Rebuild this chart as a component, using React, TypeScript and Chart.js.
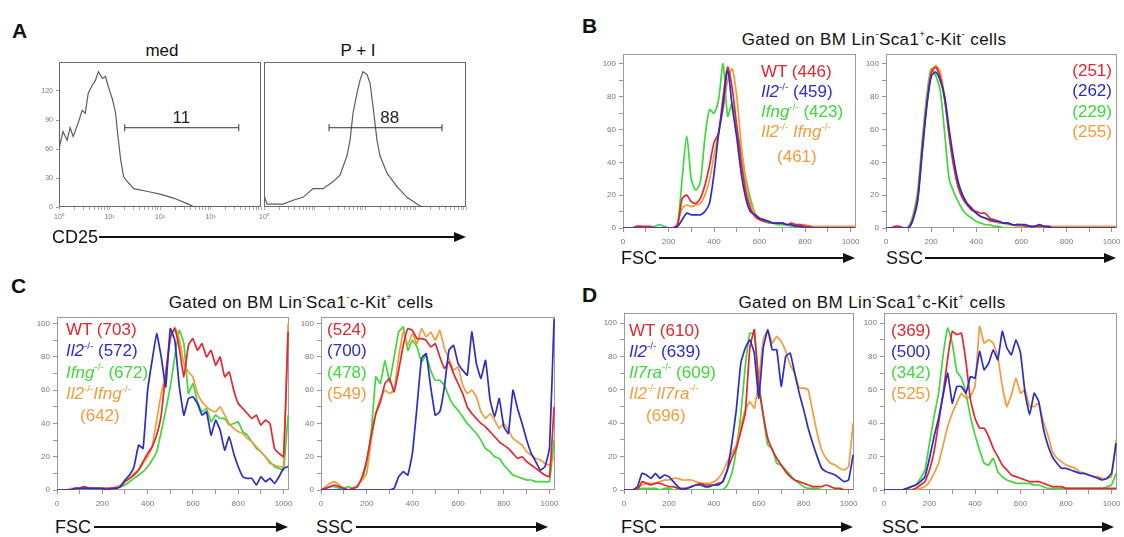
import React, { useEffect, useRef } from 'react';
import { Chart, registerables } from 'chart.js';

Chart.register(...registerables);

const FONT = '"Liberation Sans", Arial, Helvetica, sans-serif';
const RED = '#e5262f';
const BLUE = '#2c2cc9';
const GREEN = '#3fd83a';
const ORANGE = '#f59b3a';

// ---------------- Panel A (CD25, log axis) ----------------
const aMedX = [1, 1.02, 1.2, 1.45, 1.66, 1.91, 2.4, 2.88, 3.31, 3.8, 4.57, 5.25, 6.03, 7.24, 8.32, 9.55, 11.5, 13.2, 14.5, 16.6, 19.1, 22.9, 30.2, 57.5, 105, 191, 363, 479, 10000];
const aMedY = [121, 62, 78, 69, 82, 73, 87, 100, 97, 118, 126, 131, 140, 133, 135, 124, 111, 97, 76, 49, 31, 26, 19, 16, 13, 9, 3, 0, 0];
const aPiX = [1, 1.15, 2.38, 3.75, 5.92, 9.34, 14.7, 23.2, 32, 44, 50.5, 57.9, 69.5, 79.6, 91.2, 110, 126, 144, 173, 198, 273, 430, 679, 1071, 1349, 10000];
const aPiY = [12, 3, 3, 7, 10, 19, 19, 26, 33, 53, 69, 97, 118, 131, 140, 137, 128, 104, 69, 53, 35, 21, 10, 3, 0, 0];
const aGateMed = [20, 3630];
const aGatePi = [19.4, 3350];
const aGateY = 82;
const aGateMedLabel = { x: 265, text: '11' };
const aGatePiLabel = { x: 310, text: '88' };
const aYTicks = [0, 30, 60, 90, 120];
const aXTicks = [1, 2, 3, 4, 5, 6, 7, 8, 9, 10, 20, 30, 40, 50, 60, 70, 80, 90, 100, 200, 300, 400, 500, 600, 700, 800, 900, 1000, 2000, 3000, 4000, 5000, 6000, 7000, 8000, 9000, 10000];
const aXMajor = [1, 10, 100, 1000, 10000];
const aXLabels = ['10\u2070', '10\u00b9', '10\u00b2', '10\u00b3', '10\u2074'];

// ---------------- Panels B-D (linear FSC / SSC) ----------------
const binX = [0, 20, 40, 60, 80, 100, 120, 140, 160, 180, 200, 220, 240, 260, 280, 300, 320, 340, 360, 380, 400, 420, 440, 460, 480, 500, 520, 540, 560, 580, 600, 620, 640, 660, 680, 700, 720, 740, 760, 780, 800, 820, 840, 860, 880, 900, 920, 940, 960, 980, 1000, 1020];
const linXTicks = [0, 100, 200, 300, 400, 500, 600, 700, 800, 900, 1000];
const linYTicks = [0, 10, 20, 30, 40, 50, 60, 70, 80, 90, 100];

const bFscWT = [0, 0, 0, 1, 1, 1, 1, 0, 0, 0, 0, 0, 2, 18, 20, 16, 15, 18, 26, 38, 52, 58, 80, 98, 85, 62, 40, 22, 12, 7, 5, 4, 4, 3, 3, 3, 2, 3, 2, 2, 1, 1, 0, 0, 0, 0, 0, 0, 0, 0, 0, 0];
const bFscIl2 = [0, 0, 0, 0, 0, 0, 0, 0, 0, 0, 0, 0, 1, 5, 9, 8, 8, 8, 10, 15, 33, 57, 75, 96, 74, 55, 33, 18, 10, 8, 6, 5, 4, 3, 3, 3, 2, 2, 1, 1, 0, 0, 0, 0, 0, 0, 0, 0, 0, 0, 0, 0];
const bFscIfng = [0, 0, 0, 1, 1, 0, 0, 1, 2, 1, 0, 0, 3, 30, 56, 30, 23, 28, 55, 72, 70, 78, 100, 68, 76, 60, 47, 30, 18, 9, 6, 4, 3, 3, 2, 2, 2, 1, 1, 1, 1, 0, 0, 0, 0, 0, 0, 0, 0, 0, 0, 0];
const bFscDko = [0, 0, 0, 0, 0, 0, 0, 0, 0, 0, 0, 0, 3, 12, 14, 13, 14, 15, 20, 29, 44, 58, 72, 90, 97, 80, 50, 28, 15, 9, 6, 5, 4, 3, 3, 3, 2, 2, 2, 2, 2, 1, 1, 1, 1, 1, 1, 1, 1, 1, 1, 1];

const bSscWT = [0, 0, 1, 1, 0, 0, 6, 18, 48, 75, 94, 98, 92, 78, 56, 38, 25, 18, 14, 11, 10, 9, 9, 6, 5, 4, 3, 3, 2, 2, 2, 1, 1, 1, 1, 1, 0, 0, 0, 0, 0, 0, 0, 0, 0, 0, 0, 0, 0, 0, 0, 0];
const bSscIl2 = [0, 0, 0, 0, 0, 0, 5, 16, 45, 73, 92, 95, 90, 80, 60, 42, 28, 20, 15, 12, 9, 7, 6, 5, 4, 4, 3, 3, 2, 2, 2, 2, 1, 1, 2, 1, 1, 0, 0, 0, 0, 0, 0, 0, 0, 0, 0, 0, 0, 0, 0, 0];
const bSscIfng = [0, 0, 0, 0, 0, 1, 8, 22, 52, 80, 97, 93, 84, 58, 30, 22, 16, 11, 8, 6, 4, 3, 2, 2, 1, 1, 0, 0, 0, 0, 0, 0, 0, 0, 0, 0, 0, 0, 0, 0, 0, 0, 0, 0, 0, 0, 0, 0, 0, 0, 0, 0];
const bSscDko = [0, 0, 0, 0, 0, 0, 6, 18, 47, 76, 95, 99, 95, 80, 57, 38, 25, 18, 14, 11, 9, 7, 6, 4, 4, 3, 3, 2, 2, 1, 1, 1, 1, 1, 1, 1, 1, 1, 1, 1, 1, 1, 1, 1, 1, 1, 1, 1, 1, 1, 1, 1];

const cFscWT = [0, 0, 0, 0, 1, 1, 2, 1, 1, 1, 1, 1, 1, 1, 2, 5, 7, 9, 12, 17, 22, 26, 33, 45, 70, 92, 97, 85, 68, 87, 91, 84, 88, 80, 84, 75, 80, 68, 71, 60, 52, 49, 46, 43, 45, 39, 42, 40, 25, 22, 20, 95];
const cFscIl2 = [0, 0, 0, 0, 1, 1, 1, 1, 1, 1, 1, 0, 1, 1, 2, 6, 9, 14, 27, 25, 60, 78, 94, 80, 62, 97, 90, 62, 45, 55, 56, 52, 45, 47, 33, 42, 36, 24, 32, 22, 14, 8, 7, 7, 3, 8, 5, 7, 4, 8, 13, 14];
const cFscIfng = [0, 0, 0, 0, 0, 1, 1, 1, 1, 0, 0, 0, 1, 1, 2, 3, 5, 7, 9, 11, 14, 18, 23, 35, 48, 62, 80, 96, 88, 58, 64, 53, 47, 49, 41, 45, 43, 43, 39, 40, 41, 35, 33, 29, 25, 23, 20, 17, 14, 13, 12, 45];
const cFscDko = [0, 0, 0, 1, 1, 1, 2, 1, 1, 1, 1, 1, 1, 2, 3, 5, 7, 10, 12, 16, 20, 26, 42, 58, 70, 90, 98, 91, 76, 71, 68, 58, 53, 50, 48, 47, 50, 45, 40, 37, 35, 34, 31, 29, 26, 23, 20, 16, 15, 14, 14, 100];

const cSscWT = [0, 1, 2, 3, 2, 1, 0, 1, 2, 8, 18, 33, 46, 53, 64, 67, 59, 72, 87, 97, 96, 91, 91, 90, 86, 88, 80, 73, 77, 70, 64, 58, 50, 46, 43, 40, 38, 35, 32, 29, 27, 25, 22, 19, 20, 17, 15, 13, 11, 9, 8, 50];
const cSscIl2 = [0, 0, 0, 0, 0, 0, 0, 0, 0, 0, 0, 0, 0, 0, 0, 0, 1, 8, 11, 9, 22, 50, 79, 82, 62, 45, 47, 62, 84, 87, 76, 72, 69, 95, 76, 67, 78, 54, 44, 55, 38, 34, 60, 49, 40, 30, 22, 17, 12, 14, 25, 103];
const cSscIfng = [0, 1, 2, 2, 1, 1, 2, 1, 3, 6, 16, 35, 68, 64, 78, 65, 80, 95, 98, 84, 90, 86, 77, 81, 72, 66, 66, 63, 56, 51, 48, 44, 40, 37, 34, 30, 25, 23, 20, 19, 15, 12, 9, 8, 7, 6, 6, 5, 5, 5, 5, 30];
const cSscDko = [0, 2, 4, 5, 3, 1, 0, 1, 3, 6, 10, 30, 46, 55, 60, 58, 60, 80, 95, 87, 94, 88, 97, 92, 95, 90, 96, 85, 79, 72, 74, 63, 58, 60, 56, 47, 43, 46, 42, 37, 40, 36, 31, 29, 27, 23, 21, 19, 18, 16, 15, 20];

const dFscWT = [0, 0, 0, 0, 5, 4, 3, 4, 4, 3, 2, 2, 1, 1, 1, 2, 3, 4, 3, 3, 3, 4, 5, 12, 19, 25, 35, 46, 85, 96, 62, 45, 31, 24, 19, 15, 11, 8, 6, 5, 4, 3, 2, 2, 2, 3, 2, 1, 1, 0, 0, 0];
const dFscIl2 = [0, 0, 0, 2, 10, 9, 7, 10, 7, 9, 8, 5, 2, 0, 1, 2, 3, 3, 2, 2, 3, 3, 5, 12, 28, 48, 76, 85, 90, 82, 55, 85, 96, 84, 84, 62, 80, 82, 70, 58, 48, 37, 28, 20, 13, 11, 10, 9, 7, 5, 6, 21];
const dFscIl7ra = [0, 0, 0, 0, 1, 1, 1, 1, 0, 1, 1, 0, 0, 0, 0, 0, 0, 0, 0, 0, 0, 0, 0, 3, 10, 24, 45, 74, 94, 93, 66, 44, 27, 25, 16, 15, 12, 9, 6, 4, 2, 1, 1, 1, 0, 0, 0, 0, 0, 0, 0, 0];
const dFscDko = [0, 0, 0, 1, 3, 4, 4, 4, 5, 6, 6, 7, 7, 6, 6, 6, 5, 4, 4, 4, 5, 7, 11, 17, 22, 27, 38, 48, 53, 49, 66, 90, 96, 88, 92, 89, 83, 75, 70, 61, 61, 60, 47, 34, 24, 19, 16, 15, 13, 12, 14, 40];

const dSscWT = [0, 0, 0, 0, 0, 0, 0, 1, 3, 5, 12, 23, 40, 58, 79, 95, 93, 94, 77, 54, 43, 37, 37, 32, 25, 20, 15, 12, 9, 8, 7, 6, 5, 5, 5, 4, 3, 2, 2, 2, 1, 1, 1, 1, 1, 1, 1, 1, 1, 1, 1, 1];
const dSscIl2 = [0, 0, 0, 0, 0, 1, 2, 3, 5, 8, 19, 32, 43, 57, 70, 52, 62, 62, 58, 68, 67, 83, 72, 76, 84, 78, 95, 85, 81, 90, 82, 58, 45, 58, 53, 37, 27, 20, 16, 13, 13, 12, 11, 10, 10, 9, 8, 7, 6, 7, 10, 28];
const dSscIl7ra = [0, 0, 0, 0, 0, 0, 2, 3, 7, 12, 28, 44, 58, 81, 97, 88, 71, 67, 58, 44, 33, 24, 16, 15, 19, 11, 8, 6, 5, 4, 4, 4, 4, 3, 3, 2, 1, 1, 1, 1, 1, 1, 1, 1, 1, 1, 1, 1, 1, 2, 3, 10];
const dSscDko = [0, 0, 0, 0, 0, 0, 0, 0, 1, 2, 5, 10, 16, 27, 38, 46, 52, 58, 55, 56, 62, 98, 88, 90, 88, 80, 62, 50, 57, 67, 58, 60, 50, 50, 52, 41, 33, 23, 19, 17, 15, 14, 13, 11, 10, 9, 8, 8, 7, 7, 8, 30];

const bFscMeans = [446, 459, 423, 461];
const bSscMeans = [251, 262, 229, 255];
const cFscMeans = [703, 572, 672, 642];
const cSscMeans = [524, 700, 478, 549];
const dFscMeans = [610, 639, 609, 696];
const dSscMeans = [369, 500, 342, 525];
const bcGenotypes = [[], ['Il2'], ['Ifng'], ['Il2', 'Ifng']];
const dGenotypes = [[], ['Il2'], ['Il7ra'], ['Il2', 'Il7ra']];
const LEGEND_COLORS = [RED, BLUE, GREEN, ORANGE];

// ---------------- layout constants ----------------
const PT = 6, PR = 20, PL = 12, XH = 26, YW = 34;

const framePlugin = {
  id: 'frame',
  beforeDatasetsDraw(chart: any, _a: any, opts: any) {
    const { ctx, chartArea: a } = chart;
    ctx.save();
    ctx.strokeStyle = (opts && opts.color) || '#999';
    ctx.lineWidth = 1;
    ctx.strokeRect(Math.round(a.left) + 0.5, Math.round(a.top) + 0.5, Math.round(a.right - a.left) - 1, Math.round(a.bottom - a.top) - 1);
    ctx.restore();
  },
};

const gatePlugin = {
  id: 'gateText',
  afterDatasetsDraw(chart: any, _a: any, opts: any) {
    if (!opts || !opts.text) return;
    const { ctx } = chart;
    const x = chart.scales.x.getPixelForValue(opts.x);
    const y = chart.scales.y.getPixelForValue(opts.y);
    ctx.save();
    ctx.font = `17px ${FONT}`;
    ctx.fillStyle = '#222';
    ctx.textAlign = 'center';
    ctx.textBaseline = 'alphabetic';
    ctx.fillText(opts.text, x, y - 5);
    ctx.restore();
  },
};

function lineSet(xs: number[], ys: number[], color: string, tension: number) {
  return {
    data: xs.map((x, i) => ({ x, y: ys[i] })),
    borderColor: color,
    borderWidth: 1.7,
    pointRadius: 0,
    tension,
    fill: false,
  };
}

function baseOptions(scales: any, plugins: any) {
  return {
    animation: false,
    responsive: false,
    maintainAspectRatio: false,
    events: [],
    layout: { padding: { left: PL, top: PT, right: PR, bottom: 0 } },
    plugins: { legend: { display: false }, tooltip: { enabled: false }, ...plugins },
    scales,
  };
}

const tickFont = { size: 8, family: FONT };

function linConfig(sets: { ys: number[]; color: string }[], yMax: number, tension: number) {
  return {
    type: 'line',
    data: { datasets: sets.map((s) => lineSet(binX, s.ys, s.color, tension)) },
    options: baseOptions(
      {
        x: {
          type: 'linear', min: 0, max: 1024,
          afterBuildTicks: (s: any) => { s.ticks = linXTicks.map((v) => ({ value: v })); },
          afterFit: (s: any) => { s.height = XH; s.paddingLeft = 0; s.paddingRight = 0; },
          ticks: { autoSkip: false, maxRotation: 0, minRotation: 0, padding: 5, color: '#777', font: tickFont, callback: (v: any) => (v % 200 === 0 ? String(v) : '') },
          grid: { drawOnChartArea: false, drawTicks: true, tickLength: 4, color: '#999' },
          border: { display: false },
        },
        y: {
          type: 'linear', min: 0, max: yMax,
          afterBuildTicks: (s: any) => { s.ticks = linYTicks.map((v) => ({ value: v })); },
          afterFit: (s: any) => { s.width = YW; s.paddingTop = 0; s.paddingBottom = 0; },
          ticks: { autoSkip: false, padding: 3, color: '#777', font: tickFont, callback: (v: any) => (v % 20 === 0 ? String(v) : '') },
          grid: { drawOnChartArea: false, drawTicks: true, tickLength: 4, color: '#999' },
          border: { display: false },
        },
      },
      { frame: { color: '#9a9a9a' } }
    ),
    plugins: [framePlugin],
  };
}

function aConfig(xs: number[], ys: number[], gate: number[], label: { x: number; text: string }, labelled: number[], showY: boolean) {
  return {
    type: 'line',
    data: {
      datasets: [
        { data: gate.map((x) => ({ x, y: aGateY })), borderColor: '#333', borderWidth: 1, pointStyle: 'line', pointRotation: 90, pointRadius: 3.5, pointBorderColor: '#333', pointBorderWidth: 1, fill: false },
        { data: xs.map((x, i) => ({ x, y: ys[i] })), borderColor: '#5c5c5c', borderWidth: 1.2, pointRadius: 0, tension: 0, fill: false },
      ],
    },
    options: baseOptions(
      {
        x: {
          type: 'logarithmic', min: 1, max: 10000,
          afterBuildTicks: (s: any) => { s.ticks = aXTicks.map((v) => ({ value: v })); },
          afterFit: (s: any) => { s.height = XH; s.paddingLeft = 0; s.paddingRight = 0; },
          ticks: {
            autoSkip: false, maxRotation: 0, minRotation: 0, padding: 3, color: '#777', font: { size: 7, family: FONT },
            callback: (v: any) => (labelled.indexOf(v) >= 0 ? aXLabels[aXMajor.indexOf(v)] : ''),
          },
          grid: { drawOnChartArea: false, drawTicks: true, tickLength: 3, color: '#aaa' },
          border: { display: false },
        },
        y: showY
          ? {
              type: 'linear', min: 0, max: 150,
              afterBuildTicks: (s: any) => { s.ticks = aYTicks.map((v) => ({ value: v })); },
              afterFit: (s: any) => { s.width = YW; s.paddingTop = 0; s.paddingBottom = 0; },
              ticks: { autoSkip: false, padding: 3, color: '#777', font: { size: 7, family: FONT } },
              grid: { drawOnChartArea: false, drawTicks: true, tickLength: 3, color: '#999' },
              border: { display: false },
            }
          : { type: 'linear', min: 0, max: 150, display: false },
      },
      { frame: { color: '#6a6a6a' }, gateText: { x: label.x, y: aGateY, text: label.text } }
    ),
    plugins: [framePlugin, gatePlugin],
  };
}

function ChartBox({ frame, yw, make }: { frame: number[]; yw: number; make: () => any }) {
  const ref = useRef<HTMLCanvasElement>(null);
  const [l, t, r, b] = frame;
  const w = PL + yw + (r - l) + PR;
  const h = PT + (b - t) + XH;
  useEffect(() => {
    const chart = new Chart(ref.current as HTMLCanvasElement, make());
    return () => chart.destroy();
  }, []);
  return <canvas ref={ref} width={w} height={h} style={{ position: 'absolute', left: l - yw - PL, top: t - PT, width: w, height: h }} />;
}

function T({ x, y, size, children, align = 'left', color = '#111', bold = false, style = {} }: any) {
  const transform = align === 'center' ? 'translateX(-50%)' : align === 'right' ? 'translateX(-100%)' : undefined;
  return (
    <div style={{ position: 'absolute', left: x, top: y - size / 2, fontSize: size, lineHeight: `${size}px`, whiteSpace: 'nowrap', transform, color, fontWeight: bold ? 'bold' : 'normal', fontFamily: FONT, ...style }}>
      {children}
    </div>
  );
}

function Sup({ t }: { t: string }) {
  return <span style={{ fontSize: '0.58em', position: 'relative', top: '-0.72em', lineHeight: 0 }}>{t}</span>;
}

function Geno({ genes, sep }: { genes: string[]; sep: string }) {
  return (
    <>
      {genes.map((g, i) => (
        <React.Fragment key={i}>
          {i > 0 ? sep : ''}
          <i>{g}</i>
          <Sup t="-/-" />
        </React.Fragment>
      ))}
    </>
  );
}

function FscLegend({ x, y0, dy, genos, means, sep, lastX, lastY }: any) {
  return (
    <>
      {[0, 1, 2].map((i) => (
        <T key={i} x={x} y={y0 + i * dy} size={17} color={LEGEND_COLORS[i]}>
          {genos[i].length ? <Geno genes={genos[i]} sep={sep} /> : 'WT'} ({means[i]})
        </T>
      ))}
      <T x={x} y={y0 + 3 * dy} size={17} color={ORANGE}>
        <Geno genes={genos[3]} sep={sep} />
      </T>
      <T x={lastX} y={lastY} size={17} color={ORANGE}>({means[3]})</T>
    </>
  );
}

function SscLegend({ x, y0, dy, means, align }: any) {
  return (
    <>
      {means.map((m: number, i: number) => (
        <T key={i} x={x} y={y0 + i * dy} size={17} color={LEGEND_COLORS[i]} align={align}>({m})</T>
      ))}
    </>
  );
}

function Arrow({ label, x, y, x1, x2 }: any) {
  return (
    <>
      <T x={x} y={y} size={18}>{label}</T>
      <div style={{ position: 'absolute', left: x1, top: y - 1, width: x2 - x1 - 10, height: 2, background: '#111' }} />
      <div style={{ position: 'absolute', left: x2 - 12, top: y - 5, width: 0, height: 0, borderTop: '5px solid transparent', borderBottom: '5px solid transparent', borderLeft: '12px solid #111' }} />
    </>
  );
}

const titleStyle = { letterSpacing: '0.4px' };

export default function App() {
  const t = 0.25;
  const tj = 0.1;
  return (
    <div style={{ position: 'absolute', left: 0, top: 0, width: 1124, height: 537, overflow: 'hidden', background: '#fff', fontFamily: FONT, color: '#111' }}>
      <T x={12} y={30} size={21} bold>A</T>
      <T x={582} y={25} size={21} bold>B</T>
      <T x={11} y={285} size={21} bold>C</T>
      <T x={582} y={294} size={21} bold>D</T>

      {/* Panel A */}
      <T x={162} y={50} size={17} align="center">med</T>
      <T x={358} y={50} size={17} align="center">P + I</T>
      <ChartBox frame={[59, 62, 261, 207]} yw={YW} make={() => aConfig(aMedX, aMedY, aGateMed, aGateMedLabel, [1, 10, 100, 1000], true)} />
      <ChartBox frame={[264, 62, 466, 207]} yw={0} make={() => aConfig(aPiX, aPiY, aGatePi, aGatePiLabel, [1], false)} />
      <Arrow label="CD25" x={52} y={237} x1={99} x2={466} />

      {/* Panel B */}
      <T x={874} y={39} size={17} align="center" style={titleStyle}>
        Gated on BM Lin<Sup t="-" />Sca1<Sup t="+" />c-Kit<Sup t="-" /> cells
      </T>
      <ChartBox frame={[623, 54, 856, 228]} yw={YW} make={() => linConfig([{ ys: bFscIl2, color: BLUE }, { ys: bFscWT, color: RED }, { ys: bFscDko, color: ORANGE }, { ys: bFscIfng, color: GREEN }], 106, t)} />
      <ChartBox frame={[886, 54, 1117, 228]} yw={YW} make={() => linConfig([{ ys: bSscIl2, color: BLUE }, { ys: bSscWT, color: RED }, { ys: bSscDko, color: ORANGE }, { ys: bSscIfng, color: GREEN }], 106, t)} />
      <FscLegend x={761} y0={71} dy={20.3} genos={bcGenotypes} means={bFscMeans} sep=" " lastX={777} lastY={156} />
      <SscLegend x={1112} y0={70} dy={20.5} means={bSscMeans} align="right" />
      <Arrow label="FSC" x={621} y={258} x1={659} x2={855} />
      <Arrow label="SSC" x={886} y={258} x1={925} x2={1116} />

      {/* Panel C */}
      <T x={301} y={302} size={17} align="center" style={titleStyle}>
        Gated on BM Lin<Sup t="-" />Sca1<Sup t="-" />c-Kit<Sup t="+" /> cells
      </T>
      <ChartBox frame={[57, 317, 289, 490]} yw={YW} make={() => linConfig([{ ys: cFscIl2, color: BLUE }, { ys: cFscWT, color: RED }, { ys: cFscDko, color: ORANGE }, { ys: cFscIfng, color: GREEN }], 104, tj)} />
      <ChartBox frame={[321, 317, 555, 490]} yw={YW} make={() => linConfig([{ ys: cSscIl2, color: BLUE }, { ys: cSscWT, color: RED }, { ys: cSscDko, color: ORANGE }, { ys: cSscIfng, color: GREEN }], 104, tj)} />
      <FscLegend x={66} y0={329} dy={21.5} genos={bcGenotypes} means={cFscMeans} sep="" lastX={80} lastY={415} />
      <SscLegend x={327} y0={329} dy={21.5} means={cSscMeans} align="left" />
      <Arrow label="FSC" x={55} y={527} x1={94} x2={288} />
      <Arrow label="SSC" x={316} y={527} x1={356} x2={548} />

      {/* Panel D */}
      <T x={872} y={302} size={17} align="center" style={titleStyle}>
        Gated on BM Lin<Sup t="-" />Sca1<Sup t="+" />c-Kit<Sup t="+" /> cells
      </T>
      <ChartBox frame={[624, 313, 854, 490]} yw={YW} make={() => linConfig([{ ys: dFscIl2, color: BLUE }, { ys: dFscWT, color: RED }, { ys: dFscDko, color: ORANGE }, { ys: dFscIl7ra, color: GREEN }], 106, tj)} />
      <ChartBox frame={[884, 313, 1117, 490]} yw={YW} make={() => linConfig([{ ys: dSscIl2, color: BLUE }, { ys: dSscWT, color: RED }, { ys: dSscDko, color: ORANGE }, { ys: dSscIl7ra, color: GREEN }], 106, tj)} />
      <FscLegend x={629} y0={330} dy={21} genos={dGenotypes} means={dFscMeans} sep="" lastX={646} lastY={415} />
      <SscLegend x={891} y0={330} dy={21} means={dSscMeans} align="left" />
      <Arrow label="FSC" x={621} y={527} x1={660} x2={853} />
      <Arrow label="SSC" x={882} y={527} x1={921} x2={1114} />
    </div>
  );
}
